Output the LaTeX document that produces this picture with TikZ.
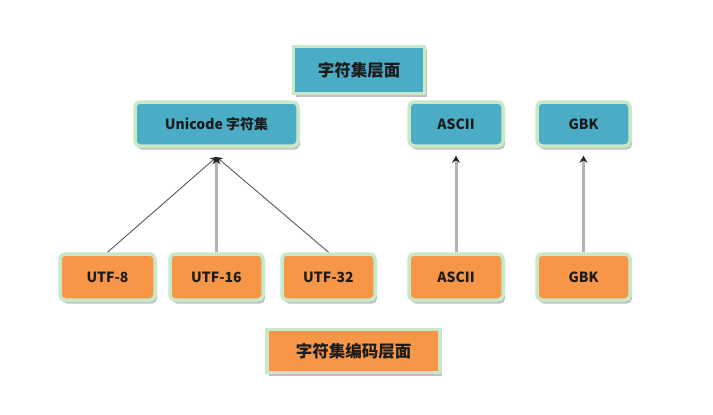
\documentclass[tikz,border=0pt]{standalone}
\usepackage{fontspec}
\setmainfont{Noto Sans CJK SC}
\usetikzlibrary{shadows,arrows.meta}
\definecolor{boxblue}{HTML}{4BACC6}
\definecolor{boxorange}{HTML}{F79646}
\definecolor{boxrim}{HTML}{C8E8C8}
\definecolor{txtdark}{HTML}{1C1C1C}
\tikzset{
  basebox/.style={draw=boxrim, line width=3.5pt, text=txtdark, font=\bfseries\fontsize{14}{16}\selectfont,
    inner sep=0pt, drop shadow={shadow xshift=2pt, shadow yshift=-3.5pt, opacity=0.35, fill=black!70}},
  bluebox/.style={basebox, fill=boxblue, rounded corners=5pt},
  orangebox/.style={basebox, fill=boxorange, rounded corners=5pt},
  bluetitle/.style={basebox, fill=boxblue, font=\bfseries\fontsize{16.5}{18}\selectfont},
  orangetitle/.style={basebox, fill=boxorange, font=\bfseries\fontsize{16.5}{18}\selectfont},
  thinlink/.style={draw=black!65, line width=0.9pt, -{Stealth[length=6pt,width=7pt,color=black!85]}},
  thicklink/.style={draw=black!30, line width=3pt, -{Stealth[length=7pt,width=8pt,color=black!85]}},
}
\begin{document}
\begin{tikzpicture}[x=1pt,y=-1pt]
\useasboundingbox (0,0) rectangle (713,415);
% upper level
\node[bluetitle, minimum width=131pt, minimum height=47pt] (t1) at (359,70) {字符集层面};
\node[bluebox, minimum width=163pt, minimum height=44pt] (uni) at (216.5,124) {Unicode 字符集};
\node[bluebox, minimum width=94pt, minimum height=44pt] (asc1) at (456,124) {ASCII};
\node[bluebox, minimum width=93pt, minimum height=44pt] (gbk1) at (583.5,124) {GBK};
% lower level
\node[orangebox, minimum width=95pt, minimum height=46pt] (u8) at (107.5,277) {UTF-8};
\node[orangebox, minimum width=93pt, minimum height=46pt] (u16) at (216.5,277) {UTF-16};
\node[orangebox, minimum width=93pt, minimum height=46pt] (u32) at (328.5,277) {UTF-32};
\node[orangebox, minimum width=94pt, minimum height=46pt] (asc2) at (456,277) {ASCII};
\node[orangebox, minimum width=93pt, minimum height=46pt] (gbk2) at (583.5,277) {GBK};
\node[orangetitle, minimum width=173pt, minimum height=43pt] (t2) at (353.5,351) {字符集编码层面};
% connectors
\coordinate (unib) at (216.5,157);
\draw[thinlink] (u8.north) -- (unib);
\draw[thinlink] (u32.north) -- (unib);
\draw[thicklink] (u16.north) -- (unib);
\draw[thicklink] (asc2.north) -- ([yshift=-8pt]asc1.south);
\draw[thicklink] (gbk2.north) -- ([yshift=-8pt]gbk1.south);
\end{tikzpicture}
\end{document}
